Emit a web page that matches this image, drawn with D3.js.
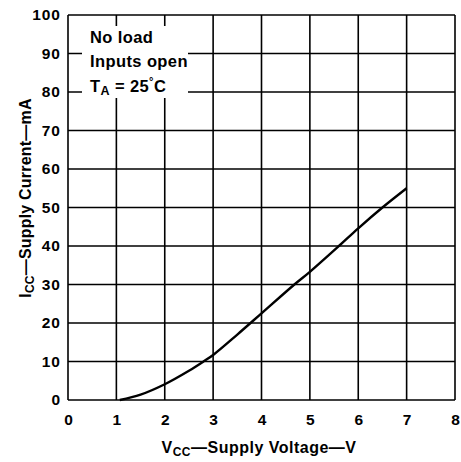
<!DOCTYPE html>
<html><head><meta charset="utf-8">
<script src="https://cdn.jsdelivr.net/npm/d3@7"></script>
<style>
body{margin:0;background:#fff;}
text{font-family:"Liberation Sans",Arial,Helvetica,sans-serif;font-weight:bold;fill:#000;}
</style></head>
<body>
<svg id="c" width="461" height="462"></svg>
<script>
const voltage = [1.07, 1.5, 2.0, 2.5, 2.8, 3.0, 3.5, 4.0, 4.68, 5.0, 5.6, 6.0, 6.5, 7.0];
const current = [0, 1.4, 4.1, 7.6, 10, 11.7, 17.0, 22.5, 30, 33.3, 40, 44.6, 50, 55];
const xTicks = [0, 1, 2, 3, 4, 5, 6, 7, 8];
const yTicks = [0, 10, 20, 30, 40, 50, 60, 70, 80, 90, 100];
const noteLines = ["No load", "Inputs open"];

const svg = d3.select("#c");
const L = 68, R = 455, T = 15, B = 400;
const x = d3.scaleLinear().domain([0, 8]).range([L, R]);
const y = d3.scaleLinear().domain([0, 100]).range([B, T]);

// grid
const g = svg.append("g");
g.selectAll(".vx").data(xTicks).join("line")
  .attr("x1", d => x(d)).attr("x2", d => x(d)).attr("y1", T).attr("y2", B)
  .attr("stroke", "#000").attr("stroke-width", 1.6);
g.selectAll(".hy").data(yTicks).join("line")
  .attr("x1", L).attr("x2", R).attr("y1", d => y(d)).attr("y2", d => y(d))
  .attr("stroke", "#000").attr("stroke-width", 1.6);

// note box
svg.append("rect").attr("x", 82).attr("y", 26).attr("width", 106).attr("height", 72).attr("fill", "#fff");
noteLines.forEach((t, i) => {
  svg.append("text").attr("x", 90).attr("y", 43 + i * 24).attr("font-size", 16.5)
    .attr("letter-spacing", 0.4).text(t);
});
const ta = svg.append("text").attr("x", 90).attr("y", 92).attr("font-size", 16.5).attr("letter-spacing", 0.4);
ta.append("tspan").text("T");
ta.append("tspan").attr("font-size", 12.5).attr("dy", 3).text("A");
ta.append("tspan").attr("dy", -3).text(" = 25");
ta.append("tspan").attr("font-size", 11).attr("dy", -7).text("°");
ta.append("tspan").attr("dy", 7).text("C");

// curve
const line = d3.line().x(d => x(d[0])).y(d => y(d[1])).curve(d3.curveCatmullRom.alpha(0.5));
svg.append("path").datum(voltage.map((v, i) => [v, current[i]]))
  .attr("d", line).attr("fill", "none").attr("stroke", "#000").attr("stroke-width", 2.4);

// axes labels
const yAxis = d3.axisLeft(y).tickValues(yTicks).tickSize(0).tickPadding(7);
const ya = svg.append("g").attr("transform", `translate(${L},0)`).call(yAxis);
ya.select(".domain").remove();
ya.selectAll("text").attr("font-size", 15.5).attr("font-family", null).attr("font-weight", null)
  .attr("letter-spacing", 1);

const xAxis = d3.axisBottom(x).tickValues(xTicks).tickSize(0).tickPadding(14);
const xa = svg.append("g").attr("transform", `translate(0,${B})`).call(xAxis);
xa.select(".domain").remove();
xa.selectAll("text").attr("font-size", 15.5).attr("font-family", null).attr("font-weight", null);

// axis titles
const xt = svg.append("text").attr("x", 259).attr("y", 453).attr("text-anchor", "middle")
  .attr("font-size", 16).attr("letter-spacing", 0.5);
xt.append("tspan").text("V");
xt.append("tspan").attr("font-size", 12).attr("dy", 3).text("CC");
xt.append("tspan").attr("dy", -3).text("—Supply Voltage—V");

const yt = svg.append("text").attr("transform", "translate(31,198) rotate(-90)").attr("text-anchor", "middle")
  .attr("font-size", 16).attr("letter-spacing", 0.2);
yt.append("tspan").text("I");
yt.append("tspan").attr("font-size", 12).attr("dy", 3).text("CC");
yt.append("tspan").attr("dy", -3).text("—Supply Current—mA");
</script>
</body></html>
